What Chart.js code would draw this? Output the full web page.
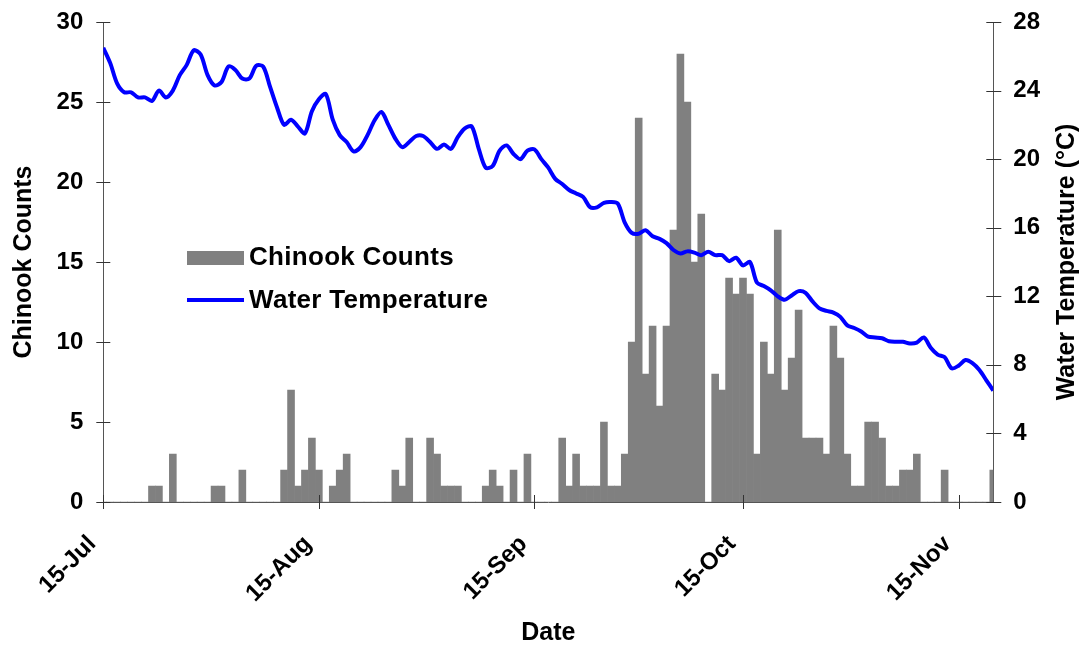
<!DOCTYPE html>
<html>
<head>
<meta charset="utf-8">
<title>Chinook Counts and Water Temperature</title>
<script src="https://cdn.jsdelivr.net/npm/chart.js@4.4.1/dist/chart.umd.min.js"></script>
<style>
  html, body { margin: 0; padding: 0; background: #fff; }
  canvas { display: block; }
</style>
</head>
<body>
<canvas id="chinook-chart" width="1085" height="650"></canvas>
<script>
// days counted from 15-Jul
var tickDays = [0, 31, 62, 92, 123];
var tickLabels = ['15-Jul', '15-Aug', '15-Sep', '15-Oct', '15-Nov'];

// daily chinook counts, one value per day starting 15-Jul
var chinookCounts = [
  0, 0, 0, 0, 0, 0, 0, 1, 1, 0,
  3, 0, 0, 0, 0, 0, 1, 1, 0, 0,
  2, 0, 0, 0, 0, 0, 2, 7, 1, 2,
  4, 2, 0, 1, 2, 3, 0, 0, 0, 0,
  0, 0, 2, 1, 4, 0, 0, 4, 3, 1,
  1, 1, 0, 0, 0, 1, 2, 1, 0, 2,
  0, 3, 0, 0, 0, 0, 4, 1, 3, 1,
  1, 1, 5, 1, 1, 3, 10, 24, 8, 11,
  6, 11, 17, 28, 25, 15, 18, 0, 8, 7,
  14, 13, 14, 13, 3, 10, 8, 17, 7, 9,
  12, 4, 4, 4, 3, 11, 9, 3, 1, 1,
  5, 5, 4, 1, 1, 2, 2, 3, 0, 0,
  0, 2, 0, 0, 0, 0, 0, 0, 2
];

// daily mean water temperature (°C), same days
var waterTemp = [
  26.5, 25.6, 24.4, 23.9, 23.9, 23.6, 23.6, 23.4, 24.0, 23.6,
  24.0, 24.9, 25.5, 26.35, 26.1, 24.9, 24.3, 24.5, 25.4, 25.2,
  24.7, 24.7, 25.45, 25.4, 24.2, 23.0, 22.0, 22.3, 21.9, 21.5,
  22.8, 23.5, 23.8, 22.3, 21.4, 21.0, 20.45, 20.7, 21.4, 22.25,
  22.75, 22.0, 21.2, 20.7, 21.0, 21.35, 21.35, 21.0, 20.6, 20.85,
  20.6, 21.3, 21.8, 21.9, 20.6, 19.5, 19.6, 20.5, 20.8, 20.3,
  20.0, 20.5, 20.57, 20.0, 19.5, 18.85, 18.55, 18.2, 18.0, 17.8,
  17.2, 17.19, 17.45, 17.5, 17.4, 16.3, 15.7, 15.65, 15.85, 15.5,
  15.35, 15.1, 14.7, 14.5, 14.62, 14.55, 14.4, 14.6, 14.4, 14.4,
  14.05, 14.25, 13.8, 14.0, 12.8, 12.6, 12.35, 12.0, 11.8, 12.05,
  12.3, 12.2, 11.7, 11.3, 11.15, 11.05, 10.8, 10.3, 10.15, 9.95,
  9.65, 9.6, 9.55, 9.38, 9.35, 9.35, 9.25, 9.3, 9.6, 9.0,
  8.6, 8.45, 7.8, 7.95, 8.28, 8.1, 7.7, 7.1, 6.5
];

var FONT = '"Liberation Sans", Arial, Helvetica, sans-serif';
Chart.defaults.font.family = FONT;
Chart.defaults.color = '#000';

// tick marks crossing each axis line
var crossTicks = {
  id: 'crossTicks',
  afterDatasetsDraw: function(chart) {
    var ctx = chart.ctx, area = chart.chartArea;
    var x = chart.scales.x, y = chart.scales.y, y1 = chart.scales.y1;
    ctx.save();
    ctx.strokeStyle = '#333';
    ctx.lineWidth = 1;
    ctx.beginPath();
    y.ticks.forEach(function(t) {
      var py = Math.round(y.getPixelForValue(t.value)) + 0.5;
      ctx.moveTo(area.left - 7, py);
      ctx.lineTo(area.left + 7, py);
    });
    y1.ticks.forEach(function(t) {
      var py = Math.round(y1.getPixelForValue(t.value)) + 0.5;
      ctx.moveTo(area.right - 7, py);
      ctx.lineTo(area.right + 8, py);
    });
    x.ticks.forEach(function(t) {
      var px = Math.round(x.getPixelForValue(t.value)) + 0.5;
      ctx.moveTo(px, area.bottom - 7);
      ctx.lineTo(px, area.bottom + 7);
    });
    ctx.stroke();
    ctx.restore();
  }
};

// legend sitting inside the plot, plus the right axis title read bottom-up
var extras = {
  id: 'extras',
  afterDraw: function(chart) {
    var ctx = chart.ctx;
    var bars = chart.data.datasets[0], line = chart.data.datasets[1];
    ctx.save();
    ctx.fillStyle = bars.backgroundColor;
    ctx.fillRect(187, 251, 57, 14);
    ctx.strokeStyle = line.borderColor;
    ctx.lineWidth = 4;
    ctx.beginPath();
    ctx.moveTo(187, 300);
    ctx.lineTo(244, 300);
    ctx.stroke();
    ctx.fillStyle = '#000';
    ctx.font = 'bold 26px ' + FONT;
    ctx.letterSpacing = '0.3px';
    ctx.textBaseline = 'alphabetic';
    ctx.textAlign = 'left';
    ctx.fillText(bars.label, 249, 265);
    ctx.fillText(line.label, 249, 308);
    ctx.letterSpacing = '0px';

    var area = chart.chartArea;
    ctx.translate(1067, (area.top + area.bottom) / 2);
    ctx.rotate(-Math.PI / 2);
    ctx.font = 'bold 25px ' + FONT;
    ctx.textAlign = 'center';
    ctx.textBaseline = 'middle';
    ctx.fillText('Water Temperature (°C)', 0, 0);
    ctx.restore();
  }
};

var tickFont = { size: 24, weight: 'bold' };
var titleFont = { size: 25, weight: 'bold' };

// keep the side axes from pushing the plot area down
function fixSide(width) {
  return function(scale) {
    scale.width = width;
    scale.paddingTop = 0;
    scale.paddingBottom = 0;
  };
}

var chinookChart = new Chart(document.getElementById('chinook-chart').getContext('2d'), {
  type: 'bar',
  data: {
    datasets: [{
      type: 'bar',
      label: 'Chinook Counts',
      data: chinookCounts.map(function(v, i) { return { x: i, y: v }; }),
      backgroundColor: '#808080',
      barPercentage: 1,
      categoryPercentage: 1,
      yAxisID: 'y',
      order: 2
    }, {
      type: 'line',
      label: 'Water Temperature',
      data: waterTemp.map(function(v, i) { return { x: i, y: v }; }),
      borderColor: '#0000FF',
      borderWidth: 4,
      pointRadius: 0,
      tension: 0.3,
      fill: false,
      yAxisID: 'y1',
      order: 1
    }]
  },
  options: {
    responsive: false,
    animation: false,
    layout: { padding: { top: 22, left: 0, right: 0, bottom: 0 } },
    plugins: {
      legend: { display: false },
      tooltip: { enabled: false }
    },
    scales: {
      x: {
        type: 'linear',
        min: 0,
        max: 128,
        offset: false,
        grid: { display: false, drawTicks: false },
        border: { display: true, color: '#555', width: 1 },
        afterBuildTicks: function(scale) {
          scale.ticks = tickDays.map(function(d) { return { value: d }; });
        },
        afterFit: function(scale) {
          scale.height = 148;
          scale.paddingLeft = 0;
          scale.paddingRight = 0;
        },
        ticks: {
          autoSkip: false,
          minRotation: 45,
          maxRotation: 45,
          labelOffset: -11,
          padding: 28,
          font: tickFont,
          callback: function(value) { return tickLabels[tickDays.indexOf(value)]; }
        },
        title: { display: true, text: 'Date', font: titleFont, padding: { top: 0, bottom: 2 } }
      },
      y: {
        position: 'left',
        min: 0,
        max: 30,
        grid: { display: false, drawTicks: false },
        border: { display: true, color: '#555', width: 1 },
        afterFit: fixSide(103.3),
        ticks: { stepSize: 5, padding: 20, font: tickFont },
        title: { display: true, text: 'Chinook Counts', font: titleFont, padding: { top: 9, bottom: 0 } }
      },
      y1: {
        position: 'right',
        min: 0,
        max: 28,
        grid: { display: false, drawTicks: false },
        border: { display: true, color: '#555', width: 1 },
        afterFit: fixSide(91.7),
        ticks: { stepSize: 4, padding: 20, font: tickFont }
      }
    }
  },
  plugins: [crossTicks, extras]
});
</script>
</body>
</html>
